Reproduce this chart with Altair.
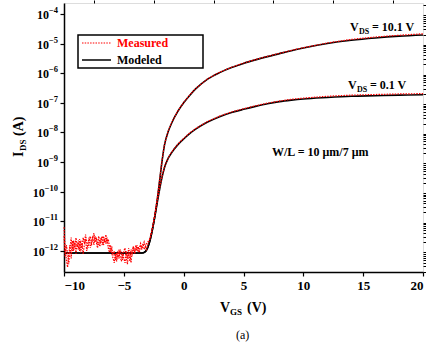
import altair as alt
import pandas as pd

# ---------------- data (log10 of I_DS in A) ----------------
vgs_model = [-10, -3.5, -3.2, -3.0, -2.8, -2.6, -2.4, -2.2, -2.0, -1.8, -1.6, -1.3, -1.0, -0.5,
             0, 0.5, 1, 2, 3, 4, 5, 6, 7, 8, 9, 10, 12, 14, 16, 18, 20]
log_model_hi = [-12.07, -12.07, -12.02, -11.88, -11.62, -11.25, -10.80, -10.25, -9.60, -8.95, -8.42,
                -7.98, -7.68, -7.30, -7.00, -6.75, -6.53, -6.20, -5.98, -5.81, -5.67, -5.55, -5.44,
                -5.34, -5.24, -5.15, -5.00, -4.89, -4.81, -4.75, -4.71]
log_model_lo = [-12.07, -12.07, -12.02, -11.88, -11.62, -11.25, -10.82, -10.35, -9.90, -9.50, -9.18,
                -8.88, -8.68, -8.42, -8.22, -8.04, -7.89, -7.65, -7.47, -7.33, -7.22, -7.12, -7.03,
                -6.96, -6.91, -6.87, -6.82, -6.78, -6.76, -6.74, -6.73]

# measured, off-state region (-10 V ... -3 V, 0.1 V steps)
vgs_noise = [round(-10 + 0.1 * i, 1) for i in range(71)]
log_meas_hi_off = [-11.2, -11.9, -12.3, -12.55, -12.1, -11.8, -12.25, -11.65, -12.0, -11.7,
                   -12.1, -11.75, -11.95, -11.6, -12.05, -11.75, -12.1, -11.8, -11.6, -12.0,
                   -11.75, -11.55, -11.9, -11.7, -11.5, -11.8, -11.5, -11.7, -11.9, -11.7,
                   -11.85, -11.6, -11.5, -11.8, -11.6, -11.75, -11.55, -11.9, -12.05, -11.8,
                   -12.1, -12.25, -12.4, -12.1, -12.35, -12.0, -12.25, -11.95, -12.1, -12.3,
                   -12.0, -11.9, -12.2, -12.45, -12.05, -12.35, -11.95, -12.15, -11.85, -12.05,
                   -11.8, -12.0, -11.85, -12.05, -11.8, -11.95, -11.75, -11.95, -11.85, -11.95,
                   -11.8]
log_meas_lo_off = [-11.5, -12.2, -11.8, -12.1, -12.45, -11.9, -11.55, -12.0, -11.65, -11.9,
                   -11.55, -11.85, -11.65, -12.0, -11.65, -11.9, -11.55, -11.75, -11.45, -11.7,
                   -11.9, -11.65, -11.5, -11.8, -11.55, -11.4, -11.7, -11.55, -11.8, -11.5,
                   -11.75, -11.55, -11.8, -11.5, -11.7, -11.45, -11.7, -11.6, -11.85, -12.0,
                   -11.9, -12.15, -12.0, -12.3, -12.05, -12.25, -11.95, -12.2, -12.35, -12.05,
                   -12.25, -12.4, -12.0, -12.25, -11.9, -12.1, -12.4, -12.0, -11.85, -12.1,
                   -11.95, -11.8, -12.0, -11.9, -11.75, -11.9, -11.85, -11.7, -11.85, -11.75,
                   -11.7]

# measured, on-state region
vgs_meas_on = [-2.8, -2.6, -2.4, -2.2, -2.0, -1.8, -1.6, -1.3, -1.0, -0.5, 0, 0.5, 1, 2, 3, 4,
               5, 6, 7, 8, 9, 10, 12, 14, 16, 18, 20]
log_meas_hi_on = [-11.55, -11.2, -10.75, -10.2, -9.56, -8.92, -8.40, -7.96, -7.66, -7.28, -6.99,
                  -6.74, -6.52, -6.19, -5.97, -5.80, -5.66, -5.54, -5.43, -5.33, -5.23, -5.14,
                  -4.98, -4.86, -4.78, -4.72, -4.67]
log_meas_lo_on = [-11.58, -11.22, -10.78, -10.3, -9.86, -9.47, -9.15, -8.86, -8.66, -8.40, -8.20,
                  -8.02, -7.87, -7.63, -7.45, -7.31, -7.20, -7.10, -7.01, -6.94, -6.88, -6.84,
                  -6.78, -6.74, -6.72, -6.70, -6.69]

# y tick decades
decades = [-4, -5, -6, -7, -8, -9, -10, -11, -12]

# ---------------- build tables ----------------
rows = []
for v, a, b in zip(vgs_model, log_model_hi, log_model_lo):
    rows.append({"vgs": v, "I": 10 ** a, "curve": "hi"})
    rows.append({"vgs": v, "I": 10 ** b, "curve": "lo"})
model_df = pd.DataFrame(rows)

rows = []
for v, a, b in zip(vgs_noise + vgs_meas_on, log_meas_hi_off + log_meas_hi_on,
                   log_meas_lo_off + log_meas_lo_on):
    rows.append({"vgs": v, "I": 10 ** a, "curve": "hi"})
    rows.append({"vgs": v, "I": 10 ** b, "curve": "lo"})
meas_df = pd.DataFrame(rows)

FONT = "Liberation Serif"
RED = "#ff0000"
OX, OY = 64, 3  # plot origin in page pixels

xscale = alt.Scale(domain=[-10, 20], nice=False, zero=False)
yscale = alt.Scale(type="log", domain=[1.95e-13, 2.34e-4], nice=False)

major_y = [10.0 ** e for e in decades]
minor_y = [m * 10.0 ** -e for e in range(4, 14) for m in range(2, 10)]
minor_y = [v for v in minor_y if 1.95e-13 <= v <= 2.34e-4]

x_axis_major = alt.Axis(values=[-10, -5, 0, 5, 10, 15, 20], title=None, grid=False,
                        labelFont=FONT, labelFontWeight="bold", labelFontSize=13,
                        labelColor="black", tickColor="black", tickSize=4, tickWidth=1.2,
                        domainColor="black", domainWidth=1.5, labelPadding=3)
y_axis_major = alt.Axis(values=major_y, title=None, grid=False, labels=False,
                        tickColor="black", tickSize=4, tickWidth=1.2,
                        domainColor="black", domainWidth=1.5)

modeled = alt.Chart(model_df).mark_line(color="black", strokeWidth=1.6, interpolate="monotone").encode(
    x=alt.X("vgs:Q", scale=xscale, axis=x_axis_major),
    y=alt.Y("I:Q", scale=yscale, axis=y_axis_major),
    detail="curve:N",
)

measured = alt.Chart(meas_df).mark_line(color=RED, strokeWidth=1.2, strokeDash=[1.5, 1.2],
                                        interpolate="linear").encode(
    x=alt.X("vgs:Q", scale=xscale, axis=None),
    y=alt.Y("I:Q", scale=yscale, axis=None),
    detail="curve:N",
)

minor_ticks = alt.Chart(pd.DataFrame({"vgs": [0], "I": [1e-8]})).mark_point(opacity=0).encode(
    x=alt.X("vgs:Q", scale=xscale,
            axis=alt.Axis(values=[-7.5, -2.5, 2.5, 7.5, 12.5, 17.5], labels=False, title=None,
                          grid=False, domain=False, tickColor="black", tickSize=3, tickWidth=1)),
    y=alt.Y("I:Q", scale=yscale,
            axis=alt.Axis(values=minor_y, labels=False, title=None, grid=False, domain=False,
                          tickColor="black", tickSize=2.5, tickWidth=1)),
)

# y tick labels "10" with raised exponent, right-aligned at x = 57 px
ylab = pd.DataFrame({"I": major_y, "e": ["−" + str(-d) for d in decades]})
ylab["ew"] = ylab["e"].str.len().map(lambda n: 4.6 + 4.3 * (n - 1))
ylab["xe"] = 58 - OX
ylab["x10"] = 58 - OX - ylab["ew"]
ylab_10 = alt.Chart(ylab).mark_text(font=FONT, fontWeight="bold", fontSize=12, align="right",
                                    baseline="middle", dy=1, color="black").encode(
    x=alt.X("x10:Q", scale=None), y=alt.Y("I:Q", scale=yscale, axis=None), text="t:N"
).transform_calculate(t="'10'")
ylab_e = alt.Chart(ylab).mark_text(font=FONT, fontWeight="bold", fontSize=8.5, align="right",
                                   baseline="middle", dy=-4, color="black").encode(
    x=alt.X("xe:Q", scale=None), y=alt.Y("I:Q", scale=yscale, axis=None), text="e:N")

# ---------------- text pieces (page pixel positions, baseline) ----------------
txt = pd.DataFrame([
    {"t": "V", "px": 350, "py": 31, "s": 12, "c": "black"},
    {"t": "DS", "px": 359, "py": 34, "s": 8, "c": "black"},
    {"t": "= 10.1 V", "px": 372, "py": 31, "s": 12, "c": "black"},
    {"t": "V", "px": 348, "py": 89, "s": 12, "c": "black"},
    {"t": "DS", "px": 357, "py": 92, "s": 8, "c": "black"},
    {"t": "= 0.1 V", "px": 370, "py": 89, "s": 12, "c": "black"},
    {"t": "W/L = 10 μm/7 μm", "px": 272, "py": 156, "s": 12, "c": "black"},
    {"t": "Measured", "px": 117, "py": 47, "s": 12, "c": RED},
    {"t": "Modeled", "px": 117, "py": 64, "s": 12, "c": "black"},
    {"t": "V", "px": 220, "py": 312, "s": 14, "c": "black"},
    {"t": "GS", "px": 230, "py": 315, "s": 9, "c": "black"},
    {"t": "(V)", "px": 247, "py": 312, "s": 14, "c": "black"},
])
txt["x"] = txt["px"] - OX
txt["y"] = txt["py"] - OY

texts = alt.Chart(txt).mark_text(font=FONT, fontWeight="bold", align="left",
                                 baseline="alphabetic").encode(
    x=alt.X("x:Q", scale=None), y=alt.Y("y:Q", scale=None),
    text="t:N", size=alt.Size("s:Q", scale=None, legend=None),
    color=alt.Color("c:N", scale=None, legend=None),
)

cap = pd.DataFrame([{"t": "(a)", "x": 236 - OX, "y": 339 - OY}])
caption = alt.Chart(cap).mark_text(font=FONT, fontSize=12, align="left",
                                   baseline="alphabetic", color="black").encode(
    x=alt.X("x:Q", scale=None), y=alt.Y("y:Q", scale=None), text="t:N")

ytitle = pd.DataFrame([
    {"t": "I", "x": 23 - OX, "y": 157 - OY, "s": 14},
    {"t": "DS", "x": 26 - OX, "y": 151 - OY, "s": 9},
    {"t": "(A)", "x": 23 - OX, "y": 136 - OY, "s": 14},
])
ytitle_layer = alt.Chart(ytitle).mark_text(font=FONT, fontWeight="bold", align="left",
                                           baseline="alphabetic", angle=270,
                                           color="black").encode(
    x=alt.X("x:Q", scale=None), y=alt.Y("y:Q", scale=None), text="t:N",
    size=alt.Size("s:Q", scale=None, legend=None))

legend_box = alt.Chart(pd.DataFrame({"a": [0]})).mark_rect(
    fill="white", stroke="black", strokeWidth=1.5).encode(
    x=alt.value(78 - OX), x2=alt.value(203 - OX), y=alt.value(35 - OY), y2=alt.value(68 - OY))
legend_meas = alt.Chart(pd.DataFrame({"a": [0]})).mark_rule(
    color=RED, strokeWidth=1.2, strokeDash=[1.5, 1.2]).encode(
    x=alt.value(82 - OX), x2=alt.value(111 - OX), y=alt.value(43 - OY))
legend_mod = alt.Chart(pd.DataFrame({"a": [0]})).mark_rule(
    color="black", strokeWidth=1.5).encode(
    x=alt.value(82 - OX), x2=alt.value(111 - OX), y=alt.value(60 - OY))

chart = alt.layer(
    modeled, measured, minor_ticks, ylab_10, ylab_e, legend_box, legend_meas, legend_mod,
    texts, caption, ytitle_layer
).resolve_axis(x="independent", y="independent").properties(
    width=359, height=269,
    padding={"left": OX, "top": OY, "right": 11, "bottom": 75},
    autosize=alt.AutoSizeParams(type="none"),
).configure_view(stroke=None).configure(background="white")

chart.save("out.html", embed_options={"renderer": "svg", "actions": False})
